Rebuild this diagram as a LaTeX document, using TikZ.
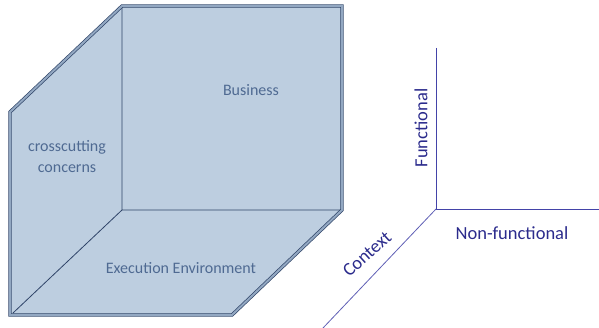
\documentclass[tikz,border=0pt]{standalone}
\usepackage{fontspec}
\setmainfont{Carlito}
\usetikzlibrary{positioning}
\definecolor{mur}{HTML}{BDCEE0}
\definecolor{arete}{HTML}{2F4468}
\definecolor{tranche}{HTML}{93A8C2}
\definecolor{texte}{HTML}{4F6A92}
\definecolor{axe}{HTML}{4343A8}
\definecolor{etiq}{HTML}{2B2B8C}

\begin{document}
\begin{tikzpicture}[x=1pt,y=-1pt,
  bord/.style={draw=arete,line width=.7pt,double=tranche,double distance=2pt},
  mot/.style={text=texte,font=\fontsize{16}{21}\selectfont,inner sep=0pt},
  axemot/.style={text=etiq,font=\fontsize{18.5}{22}\selectfont,inner sep=0pt}]
\useasboundingbox (0,0) rectangle (599,328);

% Les murs de la boite
\fill[mur] (10,112) -- (122,6) -- (342,6) -- (342,210) -- (232,315) -- (10,315) -- cycle;
\draw[arete,line width=.8pt] (122,6) -- (122,210) -- (342,210) (122,210) -- (13,313);
\draw[bord] (10,112) -- (122,6) -- (342,6) -- (342,210) -- (232,315) -- (10,315) -- cycle;

% Textes des murs
\node[mot] (bus) at (251,90) {Business};
\node[mot,align=center] (cross) at (67,157) {crosscutting\\concerns};
\node[mot] (exec) at (181,268) {Execution Environment};

% Les axes
\coordinate (O) at (436,209);
\coordinate (haut) at (436,48);
\coordinate (droite) at (599,209);
\coordinate (bas) at (323,328);
\draw[axe,line width=.9pt] (haut) -- (O) -- (droite);
\draw[axe!85,line width=.8pt] (O) -- (bas);
\node[axemot,rotate=90] (fonc) at (421,128) {Functional};
\node[axemot] (nonfonc) at (512,233) {Non-functional};
\node[axemot,rotate=42] (ctx) at (367,254) {Context};
\end{tikzpicture}
\end{document}
